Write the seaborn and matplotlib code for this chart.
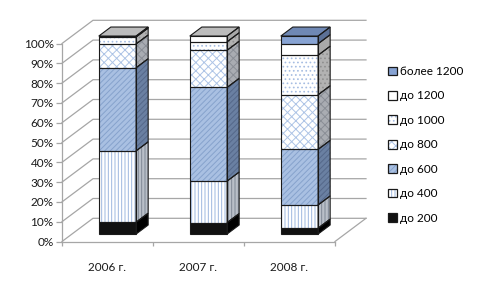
import numpy as np
import pandas as pd
import seaborn as sns
import matplotlib
matplotlib.use("Agg")
import matplotlib.pyplot as plt
from matplotlib.patches import Polygon, Rectangle

# ---------------- data ----------------
years = ["2006 г.", "2007 г.", "2008 г."]
series = ["до 200", "до 400", "до 600", "до 800", "до 1000", "до 1200", "более 1200"]
do_200 = [6.0, 5.8, 3.0]
do_400 = [36.0, 21.0, 11.7]
do_600 = [42.0, 47.4, 28.1]
do_800 = [12.0, 18.8, 27.6]
do_1000 = [3.5, 4.3, 20.0]
do_1200 = [0.5, 2.9, 5.8]
over_1200 = [0.0, 0.0, 3.9]
yticks = [0, 10, 20, 30, 40, 50, 60, 70, 80, 90, 100]

values = np.array([do_200, do_400, do_600, do_800, do_1000, do_1200, over_1200]).T
shares = values / values.sum(axis=1, keepdims=True) * 100
cum = np.cumsum(shares, axis=1)

# ---------------- styles ----------------
# front face, hatch, hatch colour, side face, side hatch colour, top face
styles = {
    "до 200":     ("#111111", None,     None,      "#000000", None,      "#333333"),
    "до 400":     ("#ffffff", "|||||",  "#9db7df", "#b9bfc8", "#7f8896", "#bdbdbd"),
    "до 600":     ("#a9c0e2", "//////", "#86a2cc", "#6a80a2", "#55688a", "#7d93b8"),
    "до 800":     ("#ffffff", "xxxx",   "#aec4e6", "#a9acb2", "#8a8e96", "#bdbdbd"),
    "до 1000":    ("#ffffff", "....",   "#a6bde2", "#b2b2b2", "#909090", "#bdbdbd"),
    "до 1200":    ("#ffffff", None,     None,      "#a9a9a9", None,      "#bcbcbc"),
    "более 1200": ("#87a3d3", None,     None,      "#5c7196", None,      "#6f88b4"),
}
grid_col = "#a6a6a6"
edge_col = "#1a1a1a"
plt.rcParams["hatch.linewidth"] = 0.7

W, H = 481, 288
fig = plt.figure(figsize=(W / 100, H / 100), dpi=100)
ax = fig.add_axes([62 / W, 46.5 / H, 273 / W, 198 / H])

# ---------------- front faces with seaborn ----------------
bar_w = 0.41
front_sets = {}
for k in reversed(range(len(series))):
    name = series[k]
    face, hatch, hcol, _, _, _ = styles[name]
    sub = pd.DataFrame({"year": years, "cum": cum[:, k]})
    n_before = len(ax.patches)
    sns.barplot(data=sub, x="year", y="cum", color=face, saturation=1,
                width=bar_w, errorbar=None, ax=ax,
                edgecolor=hcol if hatch else face, hatch=hatch, linewidth=0)
    front_sets[name] = ax.patches[n_before:]

ax.set_xlim(-0.5, 2.5)
ax.set_ylim(0, 100)

# depth (pixels in display space) -> data units
p0 = ax.transData.transform((0, 0))
p1 = ax.transData.transform((1, 1))
sx, sy = p1[0] - p0[0], p1[1] - p0[1]
DX, DY = 31 / sx, 23.2 / sy
Z0, Z1 = 0.32, 0.71


def P(x, y, z):
    return (x + z * DX, y + z * DY)


# shift front faces to the bar depth
for name, patches in front_sets.items():
    for p in patches:
        p.set_x(p.get_x() + Z0 * DX)
        p.set_y(p.get_y() + Z0 * DY)
        p.set_clip_on(False)
        p.set_zorder(3)

# bar x positions taken from the seaborn bars
top_patches = front_sets[series[-1]]
lefts = [p.get_x() - Z0 * DX for p in top_patches]
widths = [p.get_width() for p in top_patches]

# ---------------- walls / grid ----------------
x_lo, x_hi = ax.get_xlim()
for v in yticks:
    ax.plot([x_lo, x_lo + DX, x_hi + DX], [v, v + DY, v + DY],
            color=grid_col, lw=0.9, clip_on=False, zorder=1)
ax.plot([x_hi, x_hi + DX], [0, DY], color=grid_col, lw=0.9, clip_on=False, zorder=1)


def poly(pts, fc, hatch=None, hcol=None, z=3):
    ax.add_patch(Polygon(pts, closed=True, fc=fc, ec="none", lw=0, clip_on=False, zorder=z))
    if hatch:
        ax.add_patch(Polygon(pts, closed=True, fc="none", ec=hcol, lw=0,
                             hatch=hatch, clip_on=False, zorder=z))
    ax.add_patch(Polygon(pts, closed=True, fc="none", ec=edge_col, lw=0.8,
                         clip_on=False, zorder=z + 0.5))


for i in range(len(years)):
    xl = lefts[i]
    xr = xl + widths[i]
    top_name = None
    for k, name in enumerate(series):
        y0 = 0 if k == 0 else cum[i, k - 1]
        y1 = cum[i, k]
        if y1 - y0 <= 1e-9:
            continue
        top_name = name
        _, _, _, sface, shcol, _ = styles[name]
        shatch = styles[name][1]
        # front border
        ax.add_patch(Rectangle(P(xl, y0, Z0), widths[i], y1 - y0, fill=False,
                               ec=edge_col, lw=0.8, clip_on=False, zorder=3.5))
        # side face
        poly([P(xr, y0, Z0), P(xr, y0, Z1), P(xr, y1, Z1), P(xr, y1, Z0)],
             sface, shatch if shcol else None, shcol)
    # top face
    poly([P(xl, 100, Z0), P(xr, 100, Z0), P(xr, 100, Z1), P(xl, 100, Z1)],
         styles[top_name][5])

# ---------------- axes styling ----------------
for s in ["top", "right"]:
    ax.spines[s].set_visible(False)
for s in ["left", "bottom"]:
    ax.spines[s].set_color(grid_col)
    ax.spines[s].set_linewidth(0.9)
ax.set_facecolor("none")
ax.set_xlabel("")
ax.set_ylabel("")
ax.set_yticks(yticks)
ax.set_yticklabels([f"{v}%" for v in yticks])
ax.set_xticks([x_lo, 0.5, 1.5, x_hi])
ax.set_xticklabels([])
ax.set_xticks([0, 1, 2], minor=True)
ax.set_xticklabels(years, minor=True)
ax.tick_params(axis="y", left=True, length=4, width=0.9, color=grid_col,
               labelsize=8.5, labelcolor="#1a1a1a", pad=2)
ax.tick_params(axis="x", which="major", bottom=True, length=3, width=0.9,
               color=grid_col, direction="out")
ax.tick_params(axis="x", which="minor", bottom=True, length=0, pad=15,
               labelsize=8.5, labelcolor="#1a1a1a")
for t in ax.get_yticklabels() + ax.get_xticklabels(minor=True):
    t.set_family(["Lato", "DejaVu Sans"])

# ---------------- legend ----------------
handles, labels = [], []
for name in reversed(series):
    face, hatch, hcol, _, _, _ = styles[name]
    parts = [Rectangle((0, 0), 1, 1, fc=face, ec="none", lw=0)]
    if hatch:
        parts.append(Rectangle((0, 0), 1, 1, fc="none", ec=hcol, lw=0, hatch=hatch))
    parts.append(Rectangle((0, 0), 1, 1, fc="none", ec=edge_col, lw=0.9))
    handles.append(tuple(parts))
    labels.append(name)
leg = fig.legend(handles, labels, loc="upper left", bbox_to_anchor=(388 / W, 1 - 66 / H),
                 frameon=False, prop={"family": ["Lato", "DejaVu Sans"], "size": 8.5},
                 handlelength=0.75, handleheight=0.75, handletextpad=0.3,
                 labelspacing=1.14, borderaxespad=0, borderpad=0)

fig.savefig("out.png", dpi=100)
